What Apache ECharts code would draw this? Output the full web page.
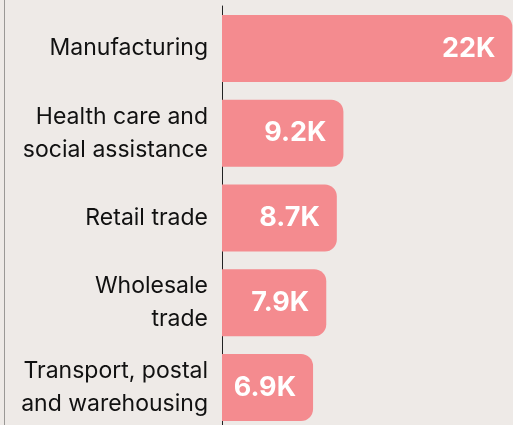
<!DOCTYPE html>
<html>
<head>
<meta charset="utf-8">
<script src="https://cdn.jsdelivr.net/npm/echarts@6/dist/echarts.min.js"></script>
<style>
  html, body { margin: 0; padding: 0; background: #EEEAE7; }
  #chart { width: 513px; height: 425px; }
</style>
</head>
<body>
<div id="chart"></div>
<script>
// industries, top to bottom
var categories = [
  'Manufacturing',
  'Health care and\nsocial assistance',
  'Retail trade',
  'Wholesale\ntrade',
  'Transport, postal\nand warehousing'
];
// values in thousands
var values = [22, 9.2, 8.7, 7.9, 6.9];

var chart = echarts.init(document.getElementById('chart'));

chart.setOption({
  backgroundColor: '#EEEAE7',
  animation: false,
  grid: { left: 222, right: 0, top: 6, height: 424, outerBoundsMode: 'none', containLabel: false },
  xAxis: {
    type: 'value',
    min: 0,
    max: 22.05,
    show: false
  },
  yAxis: {
    type: 'category',
    inverse: true,
    data: categories,
    axisLine: { show: true, lineStyle: { color: '#222', width: 1 } },
    axisTick: { show: false },
    axisLabel: {
      margin: 14,
      color: '#111',
      fontSize: 23,
      lineHeight: 33,
      fontFamily: 'Inter, sans-serif',
      align: 'right'
    }
  },
  series: [{
    type: 'bar',
    data: values,
    barWidth: 67,
    itemStyle: { color: '#F48B8F', borderRadius: [0, 12, 12, 0] },
    label: {
      show: true,
      position: 'insideRight',
      distance: 17,
      color: '#fff',
      fontSize: 27,
      fontWeight: 'bold',
      fontFamily: 'Inter, sans-serif',
      formatter: function (p) { return p.value + 'K'; }
    }
  }],
  graphic: [{
    type: 'line',
    shape: { x1: 4.5, y1: 0, x2: 4.5, y2: 425 },
    style: { stroke: '#9a9896', lineWidth: 1 }
  }]
});
</script>
</body>
</html>
